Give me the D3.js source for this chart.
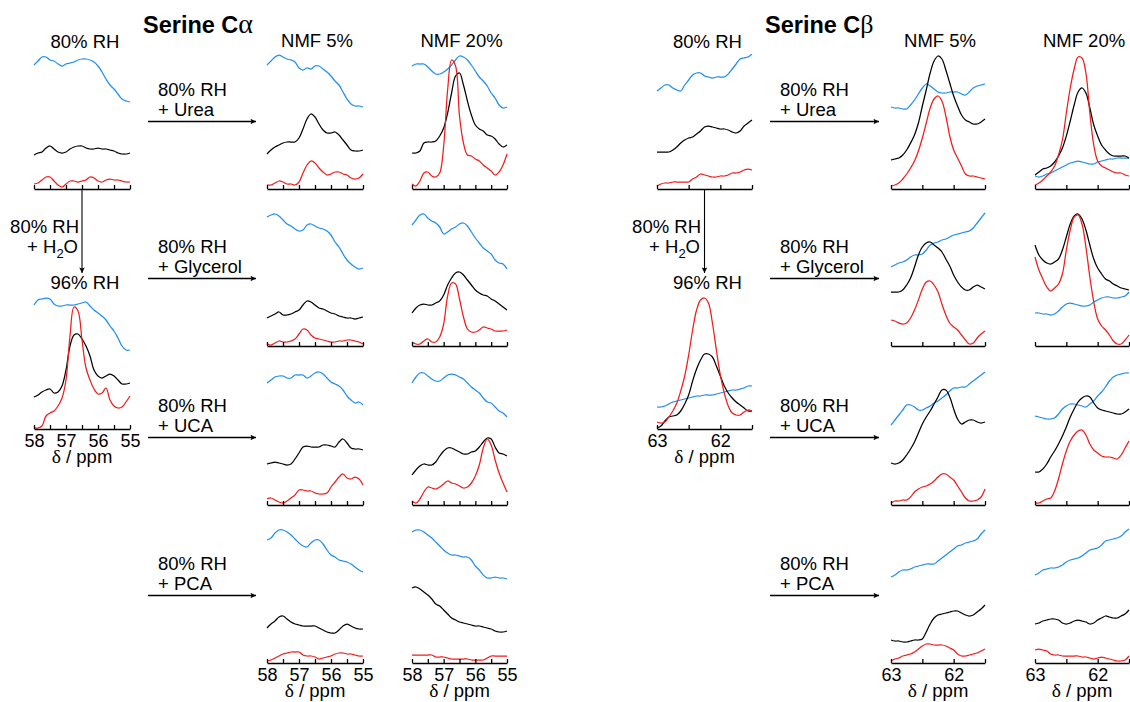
<!DOCTYPE html>
<html>
<head>
<meta charset="utf-8">
<script src="https://cdn.jsdelivr.net/npm/d3@7"></script>
<style>
  body { margin: 0; background: #fff; }
  svg { display: block; }
</style>
</head>
<body>
<svg id="fig" width="1130" height="702"></svg>
<script>
// Chemical shift grids the spectra are sampled on (ppm)
const PPM_CA = [58, 57.875, 57.75, 57.625, 57.5, 57.375, 57.25, 57.125, 57, 56.875, 56.75, 56.625, 56.5,
                56.375, 56.25, 56.125, 56, 55.875, 55.75, 55.625, 55.5, 55.375, 55.25, 55.125, 55];
const PPM_CB = [63, 62.9375, 62.875, 62.8125, 62.75, 62.6875, 62.625, 62.5625, 62.5, 62.4375, 62.375, 62.3125, 62.25,
                62.1875, 62.125, 62.0625, 62, 61.9375, 61.875, 61.8125, 61.75, 61.6875, 61.625, 61.5625, 61.5];
const TICKS_CA = [58, 57.5, 57, 56.5, 56, 55.5, 55];
const TICKS_CB = [63, 62.5, 62, 61.5];

const CONDITIONS = ["Urea", "Glycerol", "UCA", "PCA"];
const COLUMNS = ["NMF 5%", "NMF 20%"];

// Each panel: [blue, black, red] NMF components (arbitrary intensity, stacked)
// --- Serine C-alpha ---
const caRH80 = [
  [124,128,132,132,129,128,125,123,125,126,127,129,130,130,129,127,123,117,110,104,100,95,90,88,87],
  [34,36,37,41,43,40,37,36,37,40,42,43,43,41,40,40,41,40,40,39,38,36,35,35,36],
  [5,6,9,12,12,8,4,2,5,8,8,7,8,9,12,11,8,7,9,10,9,9,8,7,7]
];
const caRH96 = [
  [124,129,130,131,130,125,123,123,124,124,124,125,126,127,123,119,116,113,109,103,98,91,83,79,79],
  [32,34,37,39,40,36,37,43,59,83,94,95,90,83,73,59,53,51,53,55,53,49,45,45,46],
  [1,1,3,13,16,18,23,31,49,93,122,118,89,61,49,40,35,36,41,29,23,21,22,27,33]
];
const caUrea5 = [
  [124,128,132,134,132,130,129,127,121,119,121,120,123,123,120,117,113,108,104,97,90,85,83,83,82],
  [35,39,42,44,46,47,47,47,51,60,70,75,72,65,59,56,56,57,54,49,44,39,38,38,39],
  [4,4,6,8,7,5,5,4,7,16,24,28,26,21,17,14,15,17,17,15,14,11,10,11,15]
];
const caUrea20 = [
  [123,125,125,125,122,118,115,115,117,120,124,129,133,132,129,124,118,112,108,103,96,91,84,81,82],
  [36,36,38,46,47,47,48,53,61,76,96,113,116,104,88,74,64,60,58,54,53,50,45,42,44],
  [5,3,8,16,17,13,12,16,43,99,129,123,73,46,34,33,30,28,24,21,18,14,17,24,35]
];
const caGly5 = [
  [129,131,132,130,126,122,120,117,115,116,121,122,120,118,117,115,111,104,99,92,86,82,79,77,78],
  [28,30,32,34,31,31,32,34,36,41,45,44,41,38,37,35,33,32,30,29,28,28,27,28,29],
  [2,1,3,5,4,4,5,7,12,17,16,11,8,7,6,5,4,4,5,5,6,6,5,4,2]
];
const caGly20 = [
  [121,126,131,132,128,125,123,119,112,114,117,119,122,123,120,114,108,103,98,95,92,86,83,82,77],
  [33,38,41,42,41,41,43,45,51,61,68,73,74,71,66,61,56,53,51,50,47,45,42,39,36],
  [4,2,2,5,7,4,4,9,22,50,63,62,47,29,17,14,14,16,19,18,17,15,15,15,16]
];
const caUca5 = [
  [122,125,128,129,129,127,127,130,130,130,127,129,132,133,131,127,123,121,119,115,109,105,102,103,100],
  [41,42,43,42,41,40,41,46,52,58,59,58,58,58,60,60,59,58,63,66,62,57,56,56,55],
  [6,7,5,3,2,4,7,10,15,15,14,14,12,11,11,12,18,23,28,31,27,26,28,26,20]
];
const caUca20 = [
  [122,128,132,132,129,126,124,124,127,130,131,130,128,126,122,118,115,112,107,103,102,98,94,92,88],
  [30,35,39,41,40,40,43,49,54,57,57,55,53,51,51,53,54,58,63,67,66,58,52,51,49],
  [4,2,6,13,18,17,16,18,21,24,22,21,19,17,18,22,29,40,57,66,60,45,32,22,13]
];
const caPca5 = [
  [123,125,130,133,133,131,128,124,120,117,116,120,123,123,119,113,108,106,103,102,101,99,96,93,91],
  [35,39,42,46,47,44,41,39,38,37,37,37,37,35,33,31,30,30,33,37,39,37,35,34,34],
  [2,3,5,7,9,10,11,11,11,8,7,7,6,4,5,6,7,9,10,10,9,9,8,7,7]
];
const caPca20 = [
  [131,133,133,131,128,125,121,117,113,110,108,108,107,106,106,103,97,93,88,85,85,86,85,85,84],
  [75,76,74,71,68,64,59,57,53,49,45,43,41,40,39,38,37,37,36,35,34,32,31,31,32],
  [8,8,8,8,8,8,6,6,6,5,4,4,4,4,4,3,3,3,3,5,7,7,7,7,7]
];

// --- Serine C-beta ---
const cbRH80 = [
  [98,101,104,104,101,99,98,104,109,114,116,116,113,112,111,112,112,112,115,120,125,130,131,132,135],
  [37,37,37,37,39,42,46,49,51,52,55,58,62,63,62,61,60,60,59,57,56,58,63,66,69],
  [3,5,6,6,7,7,7,7,7,10,12,15,14,13,12,12,13,13,14,16,16,17,19,20,19]
];
const cbRH96 = [
  [22,22,23,25,27,28,29,30,31,32,33,33,34,34,34,35,36,37,38,39,39,40,41,43,43],
  [1,3,8,12,13,14,18,25,34,48,60,69,75,75,72,63,53,43,36,31,27,24,21,18,18],
  [7,6,7,12,18,26,38,53,74,99,119,129,131,126,106,79,54,36,23,16,14,14,17,19,18]
];
const cbUrea5 = [
  [82,81,81,80,80,84,89,95,101,105,103,100,97,96,96,97,97,97,95,94,97,101,103,104,105],
  [29,30,31,34,39,46,54,66,83,99,116,128,133,130,119,106,93,83,74,69,67,65,65,67,70],
  [3,4,6,10,15,21,28,38,51,66,81,90,93,88,73,53,39,31,23,15,13,13,12,11,10]
];
const cbUrea20 = [
  [13,12,13,15,16,18,20,22,24,26,27,28,27,26,25,25,27,28,29,30,30,31,31,31,31],
  [14,17,20,21,23,27,33,41,53,68,84,97,101,96,81,64,53,44,39,35,33,33,33,33,31],
  [4,6,9,13,17,23,34,49,76,101,120,132,131,116,76,44,28,23,21,19,17,16,16,14,13]
];
const cbGly5 = [
  [79,81,83,84,86,89,91,91,92,96,101,103,104,106,107,109,111,112,113,114,115,118,123,128,133],
  [54,54,54,56,61,68,79,91,99,103,104,101,98,94,87,80,71,64,59,56,56,59,61,59,57],
  [26,25,23,22,23,28,36,46,57,64,65,61,54,42,31,23,19,16,11,6,2,3,8,12,15]
];
const cbGly20 = [
  [33,33,32,32,31,32,35,39,42,43,42,41,40,40,41,44,46,48,49,49,48,48,49,50,54],
  [101,91,86,83,82,84,87,96,109,122,130,132,127,116,101,87,78,72,67,65,62,60,58,57,56],
  [89,76,67,59,55,58,62,72,96,116,129,131,122,99,69,44,27,20,16,11,5,2,2,6,11]
];
const cbUca5 = [
  [80,85,90,95,100,100,98,95,95,97,99,102,104,107,110,114,117,117,118,118,121,124,127,130,133],
  [42,41,42,45,50,56,63,72,81,88,94,101,108,115,115,108,96,86,81,83,85,85,83,82,83],
  [2,4,4,5,5,8,13,16,18,19,21,24,28,31,31,28,25,19,13,7,4,4,5,8,16]
];
const cbUca20 = [
  [89,88,87,86,86,87,91,96,99,101,101,100,99,98,101,104,109,113,118,124,128,130,131,132,132],
  [33,33,36,41,48,54,61,69,78,88,96,103,107,109,108,102,97,95,94,93,92,91,91,93,96],
  [2,2,4,6,7,14,26,41,54,64,70,74,75,70,61,55,52,49,48,48,47,46,50,57,64]
];
const cbPca5 = [
  [86,88,91,93,93,94,96,97,98,99,99,99,102,105,108,111,114,117,118,120,121,122,124,129,133],
  [23,22,22,21,21,22,23,23,24,31,39,45,48,49,50,51,52,52,50,48,47,48,51,54,58],
  [2,4,5,7,8,9,11,14,17,19,19,18,18,18,17,15,13,9,7,7,8,9,10,12,14]
];
const cbPca20 = [
  [88,90,93,94,95,95,96,98,101,103,104,105,107,110,113,114,115,118,122,123,124,125,127,131,134],
  [39,40,42,43,44,44,43,40,39,40,42,43,42,41,39,40,43,45,47,46,45,45,47,49,53],
  [13,14,13,12,9,8,8,7,7,7,7,7,6,6,5,4,5,6,5,4,3,2,2,3,7]
];

// ---------------------------------------------------------------
const svg = d3.select("#fig");
const SANS = "'Liberation Sans', Arial, Helvetica, sans-serif";
const SERIF = "'Liberation Serif', 'DejaVu Serif', serif";
const COLORS = ["#1f8ef1", "#000000", "#f21b1b"];
const FS = 18.5;                        // label font size

const ROW_Y = [189, 346, 505, 663];   // axis lines of the NMF rows
const RH80_Y = 189, RH96_Y = 429;
const PANEL_H = 140;                    // intensity units shown above an axis

const halves = [
  { ppm: PPM_CA, domain: [58, 55], ticks: TICKS_CA, greek: "\u03b1", greekSize: 28, titleX: 143,
    left: [34, 130], cols: [[267, 363], [412, 507]], arrow: [148, 256], labelX: 158, h2oX: 79,
    rh80: caRH80, rh96: caRH96,
    rows: [[caUrea5, caUrea20], [caGly5, caGly20], [caUca5, caUca20], [caPca5, caPca20]] },
  { ppm: PPM_CB, domain: [63, 61.5], ticks: TICKS_CB, greek: "\u03b2", greekSize: 26, titleX: 765,
    left: [657, 752], cols: [[891, 985], [1035, 1129]], arrow: [770, 879], labelX: 780, h2oX: 701,
    rh80: cbRH80, rh96: cbRH96,
    rows: [[cbUrea5, cbUrea20], [cbGly5, cbGly20], [cbUca5, cbUca20], [cbPca5, cbPca20]] }
];

// arrow head
svg.append("defs").append("marker")
    .attr("id", "ah")
    .attr("viewBox", "0 0 10 10")
    .attr("refX", 10).attr("refY", 5)
    .attr("markerWidth", 8).attr("markerHeight", 5.5)
    .attr("markerUnits", "userSpaceOnUse")
    .attr("orient", "auto")
  .append("path")
    .attr("d", "M0,0 L10,5 L0,10 L2,5 Z")
    .attr("fill", "#000");

function label(x, y, str, anchor) {
    return svg.append("text")
        .attr("x", x).attr("y", y)
        .attr("font-family", SANS)
        .attr("font-size", FS)
        .attr("text-anchor", anchor || "middle")
        .attr("fill", "#000")
        .text(str);
}

function drawPanel(h, xr, axisY, series, withLabels) {
    const x = d3.scaleLinear().domain(h.domain).range(xr);
    const y = d3.scaleLinear().domain([0, PANEL_H]).range([axisY, axisY - PANEL_H]);
    const line = d3.line()
        .x((d, i) => x(h.ppm[i]))
        .y(d => y(d))
        .curve(d3.curveCatmullRom.alpha(0.5));

    const g = svg.append("g");
    series.forEach((s, k) => {
        g.append("path")
            .attr("d", line(s))
            .attr("fill", "none")
            .attr("stroke", COLORS[k])
            .attr("stroke-width", 1.25)
            .attr("stroke-linejoin", "round");
    });

    const axis = d3.axisBottom(x)
        .tickValues(h.ticks)
        .tickSizeInner(-4)
        .tickSizeOuter(0)
        .tickPadding(5.5)
        .tickFormat(d => (withLabels && Number.isInteger(d)) ? d : "");

    const ag = g.append("g")
        .attr("transform", `translate(0,${axisY})`)
        .call(axis)
        .attr("font-family", SANS)
        .attr("font-size", 18);
    ag.select(".domain").attr("stroke", "#000").attr("stroke-width", 1.7);
    ag.selectAll(".tick line").attr("stroke", "#000").attr("stroke-width", 1.3);
    ag.selectAll(".tick text").attr("fill", "#000");

    if (withLabels) {
        const t = svg.append("text")
            .attr("x", (xr[0] + xr[1]) / 2)
            .attr("y", axisY + 33.5)
            .attr("text-anchor", "middle")
            .attr("font-family", SANS)
            .attr("font-size", FS);
        t.append("tspan").attr("font-family", SERIF).attr("font-size", 19.5).text("\u03b4");
        t.append("tspan").text(" / ppm");
    }
}

function hArrow(x0, x1, y) {
    svg.append("line")
        .attr("x1", x0).attr("x2", x1)
        .attr("y1", y).attr("y2", y)
        .attr("stroke", "#000").attr("stroke-width", 1.3)
        .attr("marker-end", "url(#ah)");
}

halves.forEach(h => {
    // title
    const title = svg.append("text")
        .attr("x", h.titleX).attr("y", 33)
        .attr("font-family", SANS)
        .attr("font-size", 23.5)
        .attr("font-weight", "bold");
    title.append("tspan").text("Serine C");
    title.append("tspan").attr("font-family", SERIF).attr("font-weight", "normal")
        .attr("font-size", h.greekSize).text(h.greek);

    const leftMid = (h.left[0] + h.left[1]) / 2;

    // left column: 80% RH -> 96% RH
    label(leftMid + 3, 47.5, "80% RH");
    drawPanel(h, h.left, RH80_Y, h.rh80, false);

    svg.append("line")
        .attr("x1", leftMid).attr("x2", leftMid)
        .attr("y1", RH80_Y + 1).attr("y2", 273)
        .attr("stroke", "#000").attr("stroke-width", 1.1)
        .attr("marker-end", "url(#ah)");

    label(h.h2oX, 232.5, "80% RH", "end");
    const h2o = svg.append("text")
        .attr("x", h.h2oX - 1).attr("y", 252.5)
        .attr("font-family", SANS).attr("font-size", FS)
        .attr("text-anchor", "end");
    h2o.append("tspan").text("+ H");
    h2o.append("tspan").attr("font-size", 13).attr("dy", 5).text("2");
    h2o.append("tspan").attr("dy", -5).text("O");

    label(leftMid + 3, 289, "96% RH");
    drawPanel(h, h.left, RH96_Y, h.rh96, true);

    // NMF columns
    h.cols.forEach((xr, c) => label((xr[0] + xr[1]) / 2 + 2, 47, COLUMNS[c]));

    h.rows.forEach((row, r) => {
        const ay = ROW_Y[r];
        const arrowY = ay - 67.5;
        hArrow(h.arrow[0], h.arrow[1], arrowY);
        label(h.labelX, arrowY - 25.5, "80% RH", "start");
        label(h.labelX, arrowY - 5.5, "+ " + CONDITIONS[r], "start");
        row.forEach((series, c) => drawPanel(h, h.cols[c], ay, series, r === ROW_Y.length - 1));
    });
});
</script>
</body>
</html>
